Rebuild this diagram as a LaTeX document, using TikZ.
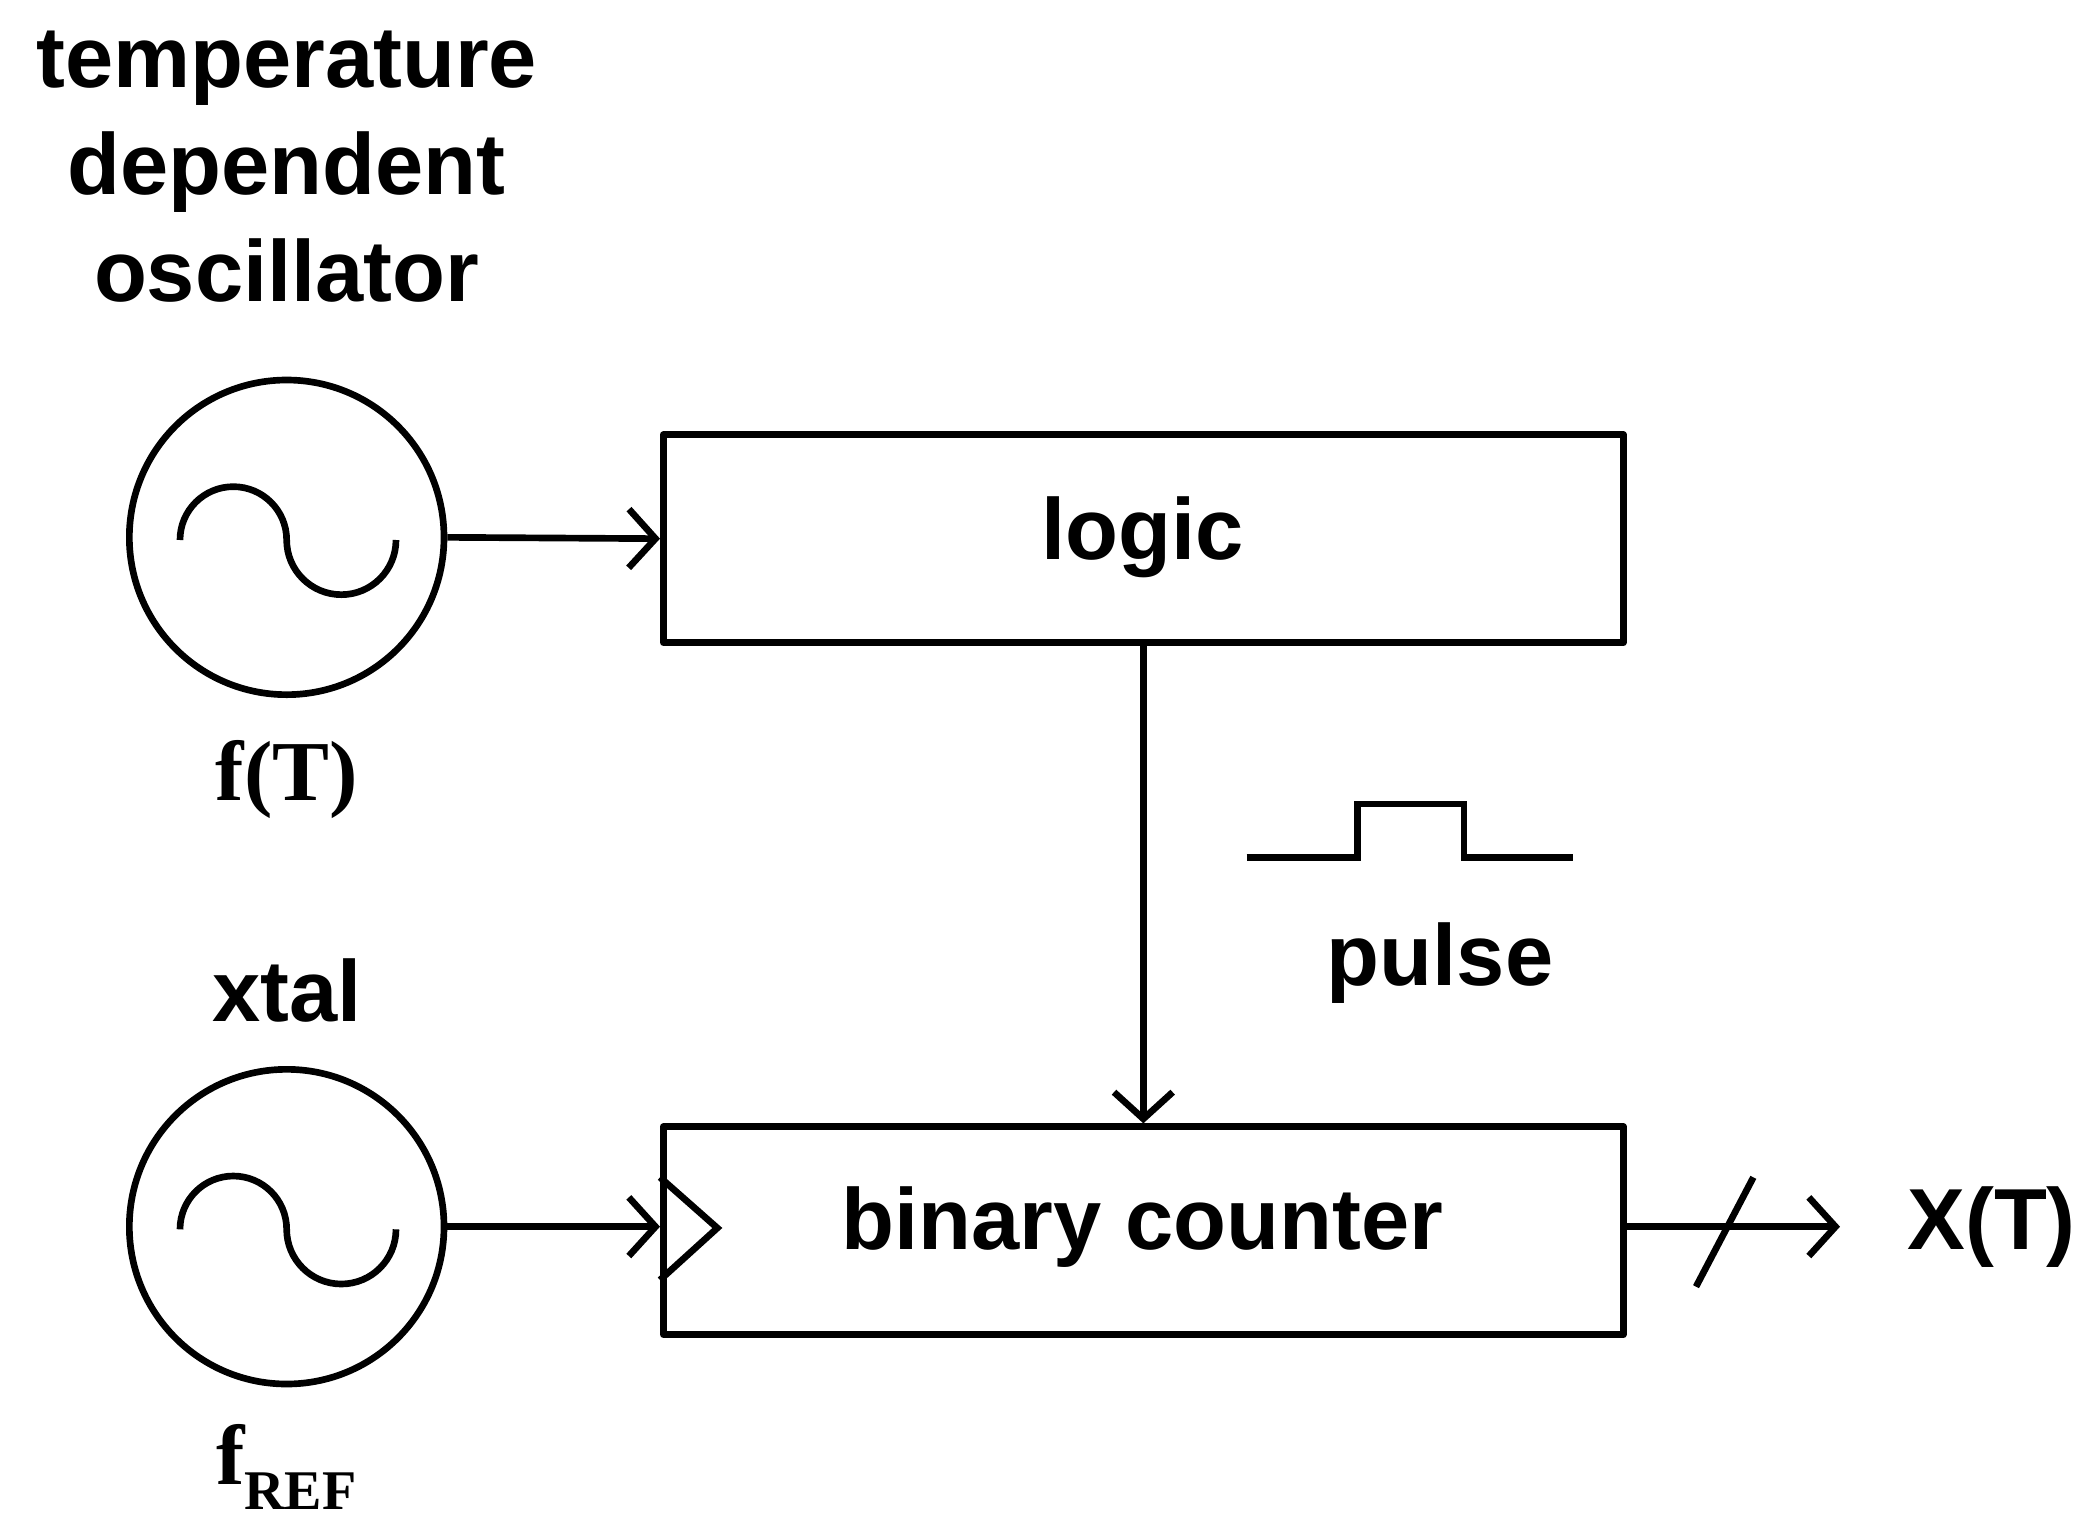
\documentclass[tikz,border=0pt]{standalone}
\usepackage{fontspec}
\setmainfont{Liberation Sans}
\newfontfamily\serifb{Liberation Serif}
\usetikzlibrary{arrows.meta}
\begin{document}
\begin{tikzpicture}[x=1pt,y=-1pt,line width=5pt,
  lbl/.style={font=\fontsize{65}{80}\selectfont\bfseries,align=center,inner sep=0},
  slbl/.style={font=\fontsize{64}{70}\selectfont\serifb\bfseries,inner sep=0},
  box/.style={draw,line join=round,minimum width=720pt,minimum height=156pt,inner sep=0},
  osc/.style={draw,circle,minimum size=236pt,inner sep=0},
  arr/.style={-{Straight Barb[length=20pt,width=44pt,line width=5pt]}}]
\useasboundingbox (0,0) rectangle (1560,1154);
\node[lbl] (title) at (215,125) {temperature\\dependent\\oscillator};
\node[osc] (o1) at (215,403) {};
\draw (135,405) arc[start angle=180,end angle=360,radius=40] arc[start angle=180,end angle=0,radius=41];
\node[slbl] (fT) at (215,585) {f(T)};
\node[lbl] (xtal) at (215,743) {xtal};
\node[osc] (o2) at (215,920) {};
\draw (135,922) arc[start angle=180,end angle=360,radius=40] arc[start angle=180,end angle=0,radius=41];
\node[slbl] (fref) at (215,1100) {f\textsubscript{\fontsize{42}{42}\selectfont REF}};
\node[box] (logic) at (857.5,404) {};
\node[lbl] at (857,403) {logic};
\node[box] (cnt) at (857.5,923) {};
\node[lbl] at (857,920) {binary counter};
\draw[line join=miter] (495,883) -- (538,921) -- (495,960);
\draw[arr] (o1.east) -- (logic.west);
\draw[arr] (o2.east) -- (cnt.west |- o2.east);
\draw[arr] (logic.south) -- (cnt.north);
\draw (935,643) -- (1018,643) -- (1018,603) -- (1098,603) -- (1098,643) -- (1180,643);
\node[lbl] (pulse) at (1080,722) {pulse};
\coordinate (out) at (1380,920);
\draw[arr] (cnt.east |- out) -- (out);
\draw (1272,965) -- (1315,883);
\node[lbl,anchor=west] (X) at (1428,920) {X(T)};
\end{tikzpicture}
\end{document}
